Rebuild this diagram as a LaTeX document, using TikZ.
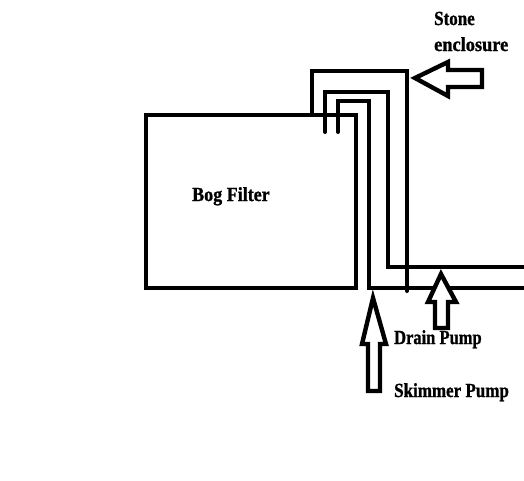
\documentclass[tikz,border=0pt]{standalone}
\usepackage{fontspec}
\setmainfont[BoldFeatures={FakeBold=1.2}]{Liberation Serif}
\begin{document}
\begin{tikzpicture}[x=1pt,y=-1pt]
  \tikzset{pipe/.style={line width=4pt,line cap=round,line join=miter},
    pointer/.style={line width=4.4pt,line join=miter,fill=white},
    lbl/.style={inner sep=0pt,anchor=base west,xscale=0.85,font=\fontsize{20}{22}\selectfont\bfseries}}
  \useasboundingbox (0,0) rectangle (524,480);
  % filter box
  \draw[pipe] (146,115) rectangle (356,288);
  % pipes
  \draw[pipe] (312,115) -- (312,71) -- (407,71) -- (407,291);
  \draw[pipe] (325,132) -- (325,92) -- (388,92) -- (388,267) -- (524,267);
  \draw[pipe] (338,132) -- (338,101) -- (369,101) -- (369,288) -- (524,288);
  % arrows
  \draw[pointer] (415,78) -- (448,62) -- (448,70) -- (482,70) -- (482,87) -- (448,87) -- (448,96) -- cycle;
  \draw[pointer] (441,274) -- (428,302) -- (435,302) -- (435,328) -- (448,328) -- (448,302) -- (456,302) -- cycle;
  \draw[pointer] (373,298) -- (362,344) -- (368,344) -- (368,391) -- (380,391) -- (380,344) -- (386,344) -- cycle;
  % labels
  \node[lbl,xscale=1.06] (bog) at (192,201) {Bog Filter};
  \node[lbl] (stone) at (434,25) {Stone};
  \node[lbl,xscale=1.08] (encl) at (434,51) {enclosure};
  \node[lbl,xscale=0.97] (drain) at (394,344) {Drain Pump};
  \node[lbl] (skim) at (394,397) {Skimmer Pump};
\end{tikzpicture}
\end{document}
